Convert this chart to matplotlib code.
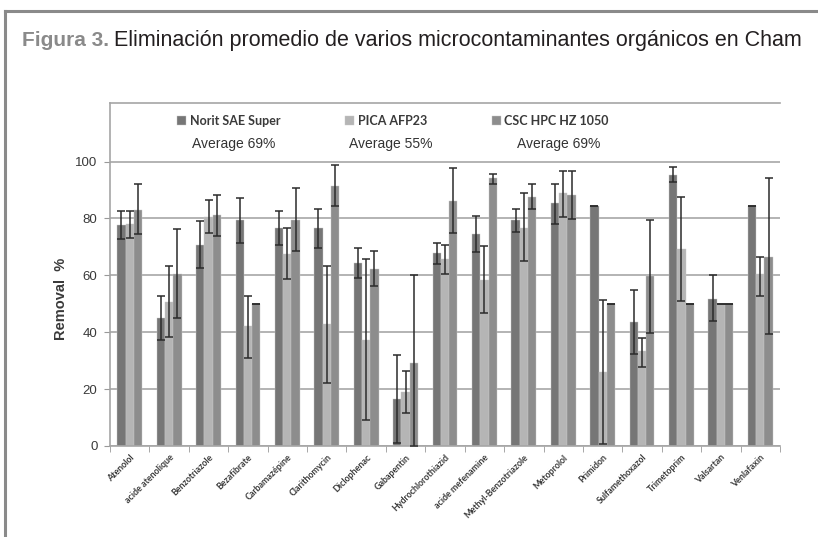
import numpy as np
import matplotlib
matplotlib.use("Agg")
import matplotlib.pyplot as plt
from matplotlib.lines import Line2D

categories = ["Atenolol", "acide atenolique", "Benzotriazole", "Bezafibrate",
              "Carbamazépine", "Clarithomycin", "Diclophenac", "Gabapentin",
              "Hydrochlorothiazid", "acide mefenamine", "Methyl-Benzotriazole",
              "Metoprolol", "Primidon", "Sulfamethoxazol", "Trimetoprim",
              "Valsartan", "Venlafaxin"]

series_names = ["Norit SAE Super", "PICA AFP23", "CSC HPC HZ 1050"]
averages = ["Average 69%", "Average 55%", "Average 69%"]

# mean removal (%) and the low / high ends of the error bars
norit = [77.8, 44.9, 70.7, 79.4, 76.7, 76.5, 64.5, 16.5, 67.9, 74.5, 79.3, 85.3, 84.5, 43.6, 95.4, 51.8, 84.5]
norit_lo = [72.9, 37.4, 62.7, 71.5, 70.6, 69.6, 59.0, 1.2, 64.1, 68.2, 75.1, 78.0, 84.5, 32.5, 92.7, 44.0, 84.5]
norit_hi = [82.7, 52.6, 79.1, 87.1, 82.8, 83.2, 69.5, 32.0, 71.5, 80.9, 83.3, 92.2, 84.5, 54.8, 98.2, 60.0, 84.5]

pica = [78.1, 50.8, 80.4, 42.1, 67.6, 42.9, 37.4, 18.9, 65.6, 58.4, 76.8, 88.8, 26.0, 33.3, 69.2, 50.1, 60.4]
pica_lo = [73.3, 38.5, 74.8, 30.9, 58.6, 22.1, 9.2, 11.5, 60.4, 46.8, 65.1, 80.4, 0.7, 27.8, 51.1, 50.1, 52.9]
pica_hi = [82.7, 63.2, 86.5, 52.9, 76.6, 63.2, 65.6, 26.5, 70.7, 70.2, 89.1, 96.7, 51.2, 38.0, 87.4, 50.1, 66.6]

csc = [83.1, 60.4, 81.1, 50.1, 79.4, 91.3, 62.1, 29.2, 86.2, 94.1, 87.6, 88.2, 50.1, 59.6, 50.1, 50.1, 66.3]
csc_lo = [74.4, 44.9, 73.9, 50.1, 68.4, 84.5, 56.2, 0.0, 74.8, 92.2, 83.2, 79.9, 50.1, 39.9, 50.1, 50.1, 39.3]
csc_hi = [92.2, 76.2, 88.4, 50.1, 90.7, 98.7, 68.4, 60.0, 97.6, 95.8, 92.2, 96.7, 50.1, 79.5, 50.1, 50.1, 94.4]

colors = ["#767676", "#b5b5b5", "#8d8d8d"]

W, H = 818, 537
fig = plt.figure(figsize=(W / 100, H / 100), dpi=100)

# outer frame of the figure box
frame = "#8a8a8a"
fig.add_artist(Line2D([5 / W, 1], [1 - 11 / H, 1 - 11 / H], color=frame, lw=2.2, transform=fig.transFigure))
fig.add_artist(Line2D([5 / W, 5 / W], [0, 1 - 11 / H], color=frame, lw=2.2, transform=fig.transFigure))

# title: grey bold "Figura 3." then the caption, stretched to the box width
t1 = fig.text(22 / W, 1 - 46 / H, "Figura 3.", fontsize=15, color="#8a8a8a",
              fontweight="bold", family="Liberation Sans", va="baseline")
fig.canvas.draw()
r = fig.canvas.get_renderer()
x1 = t1.get_window_extent(r).x1
t2 = fig.text((x1 + 5) / W, 1 - 46 / H,
              "Eliminación promedio de varios microcontaminantes orgánicos en Cham",
              fontsize=15, color="#231f20", family="Liberation Sans", va="baseline")
fig.canvas.draw()
w2 = t2.get_window_extent(r).width
t2.set_fontsize(15 * (808 - x1 - 5) / w2)

ax = fig.add_axes([110 / W, 1 - 446 / H, 670 / W, 343 / H])

x = np.arange(len(categories))
bw = 0.21
data = [(norit, norit_lo, norit_hi), (pica, pica_lo, pica_hi), (csc, csc_lo, csc_hi)]
handles = []
for k, (vals, lo, hi) in enumerate(data):
    vals = np.array(vals)
    lo = np.array(lo)
    hi = np.array(hi)
    pos = x + (k - 1) * bw
    b = ax.bar(pos, vals, bw, color=colors[k], edgecolor="#c8c8c8", linewidth=0.3, zorder=2)
    handles.append(b)
    ax.errorbar(pos, vals, yerr=[vals - lo, hi - vals], fmt="none", ecolor="#2b2b2b",
                elinewidth=1.1, capsize=2.6, capthick=1.1, zorder=3)

ax.set_xlim(-0.5, len(categories) - 0.5)
ax.set_ylim(0, 120.6)
ax.set_yticks(range(0, 101, 20))
ax.yaxis.grid(True, color="#b3b3b3", lw=1.4)
ax.set_axisbelow(True)
ax.tick_params(axis="y", labelsize=9.5, labelcolor="#3a3a3a", color="#999999", length=4, pad=5)
for lab in ax.get_yticklabels():
    lab.set_family("Liberation Sans")

ax.set_xticks(x)
ax.set_xticklabels(categories, rotation=45, ha="right", rotation_mode="anchor",
                   fontsize=6.4, fontweight="bold", color="#3a3a3a", family="Lato")
ax.tick_params(axis="x", length=0, pad=5)
ax.set_xticks(np.arange(len(categories) + 1) - 0.5, minor=True)
ax.tick_params(axis="x", which="minor", length=4, color="#999999")

for s in ["left", "bottom", "top"]:
    ax.spines[s].set_color("#a5a5a5")
    ax.spines[s].set_linewidth(1.2)
ax.spines["right"].set_visible(False)

ax.set_ylabel("Removal  %", fontsize=10.5, fontweight="bold", color="#3a3a3a",
              family="Liberation Sans")
ax.yaxis.set_label_coords(-0.062, 0.43)

leg = ax.legend([h[0] for h in handles], series_names, ncol=3, loc="center",
                bbox_to_anchor=(393 / W, 1 - 121 / H), bbox_transform=fig.transFigure,
                frameon=False, handlelength=0.7, handleheight=0.7, handletextpad=0.3,
                columnspacing=5.2, prop={"family": "Lato", "weight": "bold", "size": 9})
for t in leg.get_texts():
    t.set_color("#3a3a3a")

for cx, txt in zip([234, 391, 559], averages):
    fig.text(cx / W, 1 - 144 / H, txt, fontsize=10, color="#333333",
             family="Liberation Sans", ha="center", va="center")

fig.savefig("out.png", dpi=100)
